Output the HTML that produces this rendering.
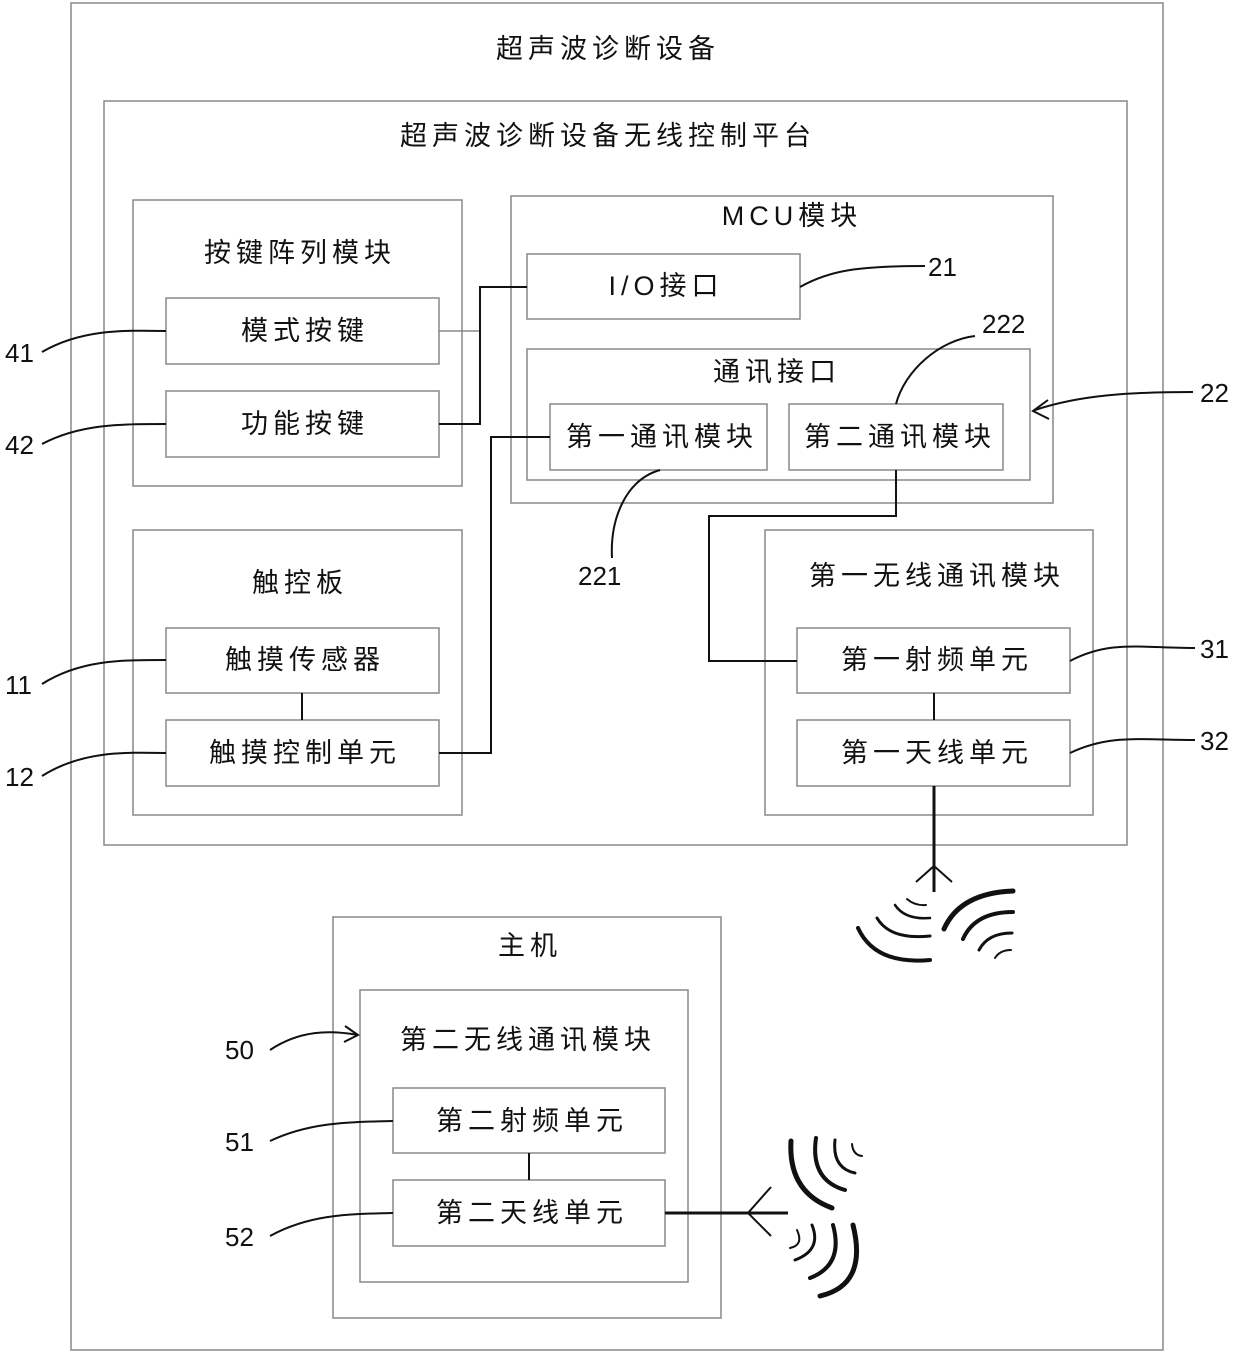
<!DOCTYPE html><html><head><meta charset="utf-8"><style>
body{margin:0;background:#fff;}
svg text{font-family:"Liberation Sans","Noto Sans CJK SC",sans-serif;font-size:26px;fill:#111;}
.c text{font-size:27px;letter-spacing:5px;}
</style></head><body>
<svg width="1240" height="1356" viewBox="0 0 1240 1356" xmlns="http://www.w3.org/2000/svg">
<g fill="none" stroke="#888" stroke-width="1.5">
<rect x="71" y="3" width="1092" height="1347"/>
<rect x="104" y="101" width="1023" height="744"/>
<rect x="133" y="200" width="329" height="286"/>
<rect x="166" y="298" width="273" height="66"/>
<rect x="166" y="391" width="273" height="66"/>
<rect x="511" y="196" width="542" height="307"/>
<rect x="527" y="254" width="273" height="65"/>
<rect x="527" y="349" width="503" height="131"/>
<rect x="550" y="404" width="217" height="66"/>
<rect x="789" y="404" width="214" height="66"/>
<rect x="133" y="530" width="329" height="285"/>
<rect x="166" y="628" width="273" height="65"/>
<rect x="166" y="720" width="273" height="66"/>
<rect x="765" y="530" width="328" height="285"/>
<rect x="797" y="628" width="273" height="65"/>
<rect x="797" y="720" width="273" height="66"/>
<rect x="333" y="917" width="388" height="401"/>
<rect x="360" y="990" width="328" height="292"/>
<rect x="393" y="1088" width="272" height="65"/>
<rect x="393" y="1180" width="272" height="66"/>
<line x1="439" y1="331" x2="480" y2="331"/>
</g>
<g fill="none" stroke="#111" stroke-width="2">
<polyline points="439,424 480,424 480,287 527,287"/>
<polyline points="439,753 491,753 491,437 550,437"/>
<polyline points="896,470 896,516 709,516 709,661 797,661"/>
<line x1="302" y1="693" x2="302" y2="720"/>
<line x1="934" y1="693" x2="934" y2="720"/>
<line x1="529" y1="1153" x2="529" y2="1180"/>
<line x1="934" y1="786" x2="934" y2="892" stroke-width="3"/>
<polyline points="916,882 934,866 952,882"/>
<line x1="665" y1="1213" x2="788" y2="1213" stroke-width="3"/>
<polyline points="771,1187 748,1213 771,1236"/>
<path d="M42,352 C80,330 120,330 166,331"/>
<path d="M42,444 C80,424 120,424 166,424"/>
<path d="M42,684 C80,660 120,660 166,660"/>
<path d="M42,776 C80,752 120,752 166,753"/>
<path d="M800,287 C830,270 860,266 925,266"/>
<path d="M896,404 C905,370 940,340 975,336"/>
<path d="M660,470 C625,480 610,520 612,558"/>
<path d="M1070,661 C1110,640 1140,648 1195,648"/>
<path d="M1070,753 C1110,734 1140,740 1195,740"/>
<path d="M1193,392 C1130,392 1080,395 1035,410"/>
<polyline points="1048,400 1033,411 1049,419"/>
<path d="M270,1050 C300,1030 330,1030 358,1035"/>
<polyline points="345,1026 358,1035 344,1042"/>
<path d="M270,1141 C310,1122 350,1122 393,1121"/>
<path d="M270,1236 C310,1214 350,1214 393,1213"/>
</g>
<g fill="none" stroke="#111" stroke-linecap="round">
<path d="M907,899 Q915,906 926,905" stroke-width="2"/>
<path d="M895,905 Q905,920 930,918" stroke-width="2.5"/>
<path d="M877,918 Q890,940 930,936" stroke-width="3"/>
<path d="M858,928 Q875,965 930,960" stroke-width="4"/>
<path d="M944,929 Q960,893 1013,891" stroke-width="5"/>
<path d="M963,939 Q975,912 1013,912" stroke-width="4"/>
<path d="M979,950 Q988,933 1012,933" stroke-width="3"/>
<path d="M995,958 Q1000,950 1011,950" stroke-width="2"/>
<path d="M791,1141 Q788,1192 832,1208" stroke-width="5"/>
<path d="M816,1138 Q810,1180 845,1190" stroke-width="4"/>
<path d="M835,1140 Q832,1168 855,1173" stroke-width="3"/>
<path d="M852,1144 Q853,1155 862,1156" stroke-width="2"/>
<path d="M797,1230 Q804,1245 790,1248" stroke-width="2"/>
<path d="M812,1225 Q822,1250 795,1260" stroke-width="3"/>
<path d="M833,1225 Q844,1265 810,1278" stroke-width="4"/>
<path d="M853,1225 Q868,1285 820,1296" stroke-width="5"/>
</g>
<g class="c" text-anchor="middle">
<text x="608" y="58">超声波诊断设备</text>
<text x="608" y="145">超声波诊断设备无线控制平台</text>
<text x="300" y="262">按键阵列模块</text>
<text x="305" y="340">模式按键</text>
<text x="305" y="433">功能按键</text>
<text x="792" y="225">MCU模块</text>
<text x="666" y="295">I/O接口</text>
<text x="777" y="381">通讯接口</text>
<text x="662" y="446">第一通讯模块</text>
<text x="900" y="446">第二通讯模块</text>
<text x="300" y="592">触控板</text>
<text x="305" y="669">触摸传感器</text>
<text x="305" y="762">触摸控制单元</text>
<text x="937" y="585">第一无线通讯模块</text>
<text x="937" y="669">第一射频单元</text>
<text x="937" y="762">第一天线单元</text>
<text x="530" y="955">主机</text>
<text x="528" y="1049">第二无线通讯模块</text>
<text x="532" y="1130">第二射频单元</text>
<text x="532" y="1222">第二天线单元</text>
</g>
<text x="5" y="362">41</text>
<text x="5" y="454">42</text>
<text x="5" y="694">11</text>
<text x="5" y="786">12</text>
<text x="928" y="276">21</text>
<text x="982" y="333">222</text>
<text x="578" y="585">221</text>
<text x="1200" y="402">22</text>
<text x="1200" y="658">31</text>
<text x="1200" y="750">32</text>
<text x="225" y="1059">50</text>
<text x="225" y="1151">51</text>
<text x="225" y="1246">52</text>
</svg>
</body></html>
